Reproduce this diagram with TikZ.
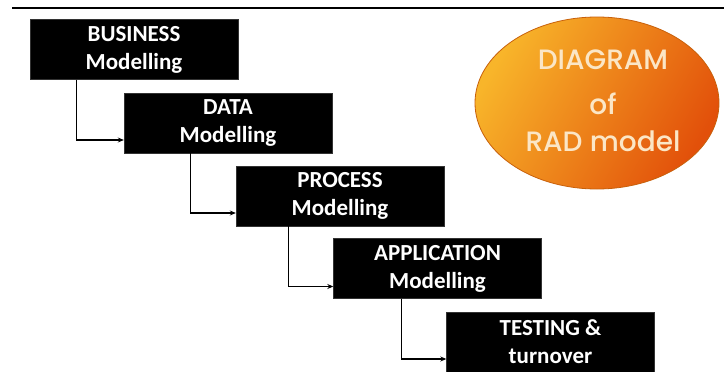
\documentclass[tikz,border=0pt]{standalone}
\usepackage{fontspec}
\setmainfont{Carlito}
\newfontfamily\gothic{Poppins Medium}
\usetikzlibrary{arrows.meta}
\definecolor{ovalline}{HTML}{C8600A}
\definecolor{ovaltext}{HTML}{FBE6C6}
\definecolor{ovallight}{HTML}{F8B52A}
\definecolor{ovaldark}{HTML}{E2500A}
\tikzset{
  stepbox/.style={fill=black, draw=black!80, text=white, minimum width=208pt, minimum height=60pt,
    inner sep=0pt, align=center, font=\fontsize{23}{28}\selectfont\bfseries},
  conn/.style={draw=black, line width=1.3pt, -{Stealth[length=6pt,width=5pt]}},
}
\begin{document}
\begin{tikzpicture}[x=1pt,y=-1pt]
\useasboundingbox (0,0) rectangle (724,372);
\fill[white] (0,0) rectangle (724,372);
\draw[line width=1.5pt] (12,8) -- (724,8);

\node[stepbox] (b1) at (134,49.5) {BUSINESS\\Modelling};
\node[stepbox] (b2) at (228,123) {DATA\\Modelling};
\node[stepbox] (b3) at (340,196) {PROCESS\\Modelling};
\node[stepbox] (b4) at (437.5,268.5) {APPLICATION\\Modelling};
\node[stepbox] (b5) at (550.5,342) {TESTING \&\\turnover};

\draw[conn] ([xshift=47pt]b1.south west) |- ([yshift=-17pt]b2.west);
\draw[conn] ([xshift=67pt]b2.south west) |- ([yshift=-17pt]b3.west);
\draw[conn] ([xshift=53pt]b3.south west) |- ([yshift=-18pt]b4.west);
\draw[conn] ([xshift=68pt]b4.south west) |- ([yshift=-17pt]b5.west);

\shade[left color=ovallight, right color=ovaldark, shading angle=60]
  (597,103) ellipse [x radius=122, y radius=86];
\draw[ovalline, line width=0.8pt] (597,103) ellipse [x radius=122, y radius=86];
\node[text=ovaltext, align=center, font=\gothic\fontsize{28}{41}\selectfont, inner sep=0pt] (title) at (603,101)
  {DIAGRAM\\[4pt]of\\[-4pt]RAD model};
\end{tikzpicture}
\end{document}
